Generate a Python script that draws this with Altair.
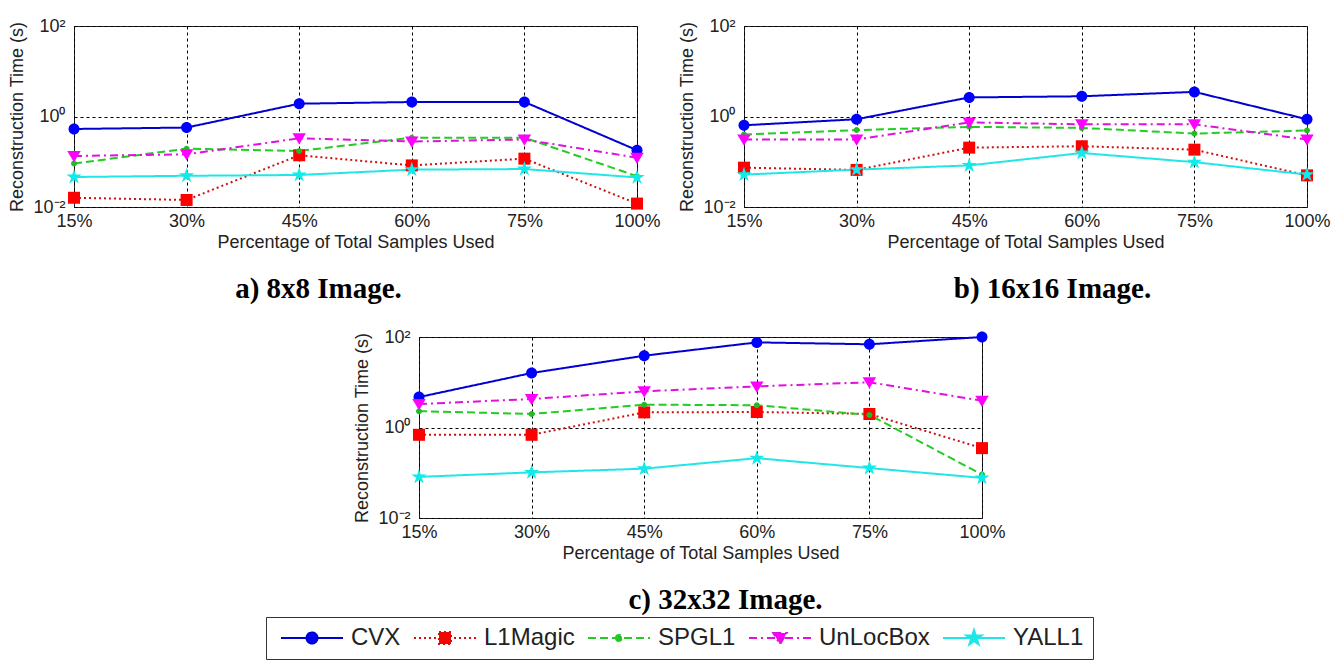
import altair as alt
import pandas as pd

categories = ["15%", "30%", "45%", "60%", "75%", "100%"]
methods = ["CVX", "L1Magic", "SPGL1", "UnLocBox", "YALL1"]

# Panel a) 8x8 image
a_cvx = [0.53, 0.57, 1.92, 2.09, 2.1, 0.18]
a_l1magic = [0.016, 0.0143, 0.139, 0.083, 0.117, 0.0119]
a_spgl1 = [0.091, 0.195, 0.173, 0.34, 0.34, 0.048]
a_unlocbox = [0.134, 0.146, 0.33, 0.28, 0.31, 0.123]
a_yall1 = [0.046, 0.049, 0.051, 0.067, 0.069, 0.045]

# Panel b) 16x16 image
b_cvx = [0.64, 0.87, 2.64, 2.8, 3.5, 0.87]
b_l1magic = [0.074, 0.066, 0.205, 0.22, 0.185, 0.05]
b_spgl1 = [0.40, 0.50, 0.59, 0.56, 0.42, 0.49]
b_unlocbox = [0.31, 0.31, 0.74, 0.67, 0.67, 0.31]
b_yall1 = [0.052, 0.067, 0.083, 0.156, 0.098, 0.052]

# Panel c) 32x32 image
c_cvx = [4.7, 16, 38.6, 76, 69, 100]
c_l1magic = [0.69, 0.69, 2.16, 2.2, 1.99, 0.35]
c_spgl1 = [2.3, 1.99, 3.2, 3.1, 1.9, 0.091]
c_unlocbox = [3.3, 4.26, 6.3, 8.1, 10, 3.9]
c_yall1 = [0.081, 0.102, 0.123, 0.21, 0.127, 0.077]

line_colors = ["#0000d0", "#d01010", "#22cc22", "#e010e0", "#22e6e6"]
marker_colors = ["#0000ff", "#ff0000", "#22bb22", "#ff00ff", "#10eaea"]
dashes = [[1, 0], [2, 3], [8, 4], [8, 4, 2, 4], [1, 0]]

CIRCLE = "M-1.1,0 A1.1,1.1 0 1,0 1.1,0 A1.1,1.1 0 1,0 -1.1,0 Z"
SQUARE = "M-1.2,-1.2 H1.2 V1.2 H-1.2 Z"
DOT = "M-0.6,0 A0.6,0.6 0 1,0 0.6,0 A0.6,0.6 0 1,0 -0.6,0 Z"
TRI = "M-1.35,-1.0 L1.35,-1.0 L0,1.25 Z"
STAR = ("M0,-1.6 L0.357,-0.492 L1.522,-0.494 L0.578,0.188 L0.941,1.294 "
        "L0,0.608 L-0.941,1.294 L-0.578,0.188 L-1.522,-0.494 L-0.357,-0.492 Z")
marker_shapes = [CIRCLE, SQUARE, DOT, TRI, STAR]
SEG = "M-6.2,0 H6.2 "
legend_shapes = [SEG + s for s in marker_shapes]


def panel_df(series_list):
    rows = []
    for m, vals in zip(methods, series_list):
        for i, (c, v) in enumerate(zip(categories, vals)):
            rows.append({"pct": c, "idx": i, "series": m, "time": v})
    return pd.DataFrame(rows)


FONT = "Liberation Sans"


def panel(series_list, caption, dx):
    df = panel_df(series_list)
    x = alt.X(
        "pct:N",
        sort=categories,
        scale=alt.Scale(type="point", padding=0),
        axis=alt.Axis(
            title="Percentage of Total Samples Used",
            labelAngle=0,
            grid=True,
            gridDash=[3, 3],
            gridColor="black",
            gridOpacity=1,
            ticks=False,
            domain=False,
            labelPadding=5,
            titlePadding=3,
        ),
    )
    y = alt.Y(
        "time:Q",
        scale=alt.Scale(type="log", domain=[0.01, 100], nice=False),
        axis=alt.Axis(
            title="Reconstruction Time (s)",
            values=[0.01, 1, 100],
            labelExpr="datum.value >= 10 ? '10²' : (datum.value >= 0.5 ? '10⁰' : '10⁻²')",
            grid=True,
            gridDash=[3, 3],
            gridColor="black",
            gridOpacity=1,
            ticks=False,
            domain=False,
            labelPadding=9,
            titlePadding=6,
            labelFlush=False,
        ),
    )
    base = alt.Chart(df)
    lines = base.mark_line(strokeWidth=2, clip=False).encode(
        x=x,
        y=y,
        order=alt.Order("idx:Q"),
        stroke=alt.Stroke("series:N", scale=alt.Scale(domain=methods, range=line_colors), legend=None),
        strokeDash=alt.StrokeDash("series:N", scale=alt.Scale(domain=methods, range=dashes), legend=None),
    )
    points = base.mark_point(filled=True, size=100, opacity=1, strokeWidth=0, clip=False).encode(
        x=x,
        y=y,
        fill=alt.Fill("series:N", scale=alt.Scale(domain=methods, range=marker_colors), legend=None),
        shape=alt.Shape("series:N", scale=alt.Scale(domain=methods, range=marker_shapes), legend=None),
    )
    return alt.layer(lines, points).properties(
        width=563,
        height=181,
        title=alt.TitleParams(
            caption,
            orient="bottom",
            anchor="middle",
            frame="group",
            font="Liberation Serif",
            fontSize=29,
            fontWeight="bold",
            color="black",
            dx=dx,
            offset=24,
        ),
    )


pa = panel([a_cvx, a_l1magic, a_spgl1, a_unlocbox, a_yall1], "a) 8x8 Image.", -37)
pb = panel([b_cvx, b_l1magic, b_spgl1, b_unlocbox, b_yall1], "b) 16x16 Image.", 27)
pc = panel([c_cvx, c_l1magic, c_spgl1, c_unlocbox, c_yall1], "c) 32x32 Image.", 25)

spacer = (
    alt.Chart(pd.DataFrame({"v": [0]}))
    .transform_filter("false")
    .mark_point(opacity=0)
    .encode(x=alt.value(0), y=alt.value(0))
    .properties(width=278, height=1, view=alt.ViewBackground(stroke="transparent"))
)

leg = alt.Legend(
    title=None,
    orient="none",
    legendX=192,
    legendY=0,
    direction="horizontal",
    columns=5,
    gridAlign="none",
    labelFont=FONT,
    labelFontSize=24,
    labelColor="#222",
    symbolSize=100,
    symbolStrokeWidth=2,
    symbolOffset=25,
    labelOffset=27,
    columnPadding=7,
    padding=9,
    strokeColor="#333",
    fillColor="white",
)

legend_chart = (
    alt.Chart(pd.DataFrame({"Method": methods}))
    .transform_filter("false")
    .mark_point(filled=True, size=100, opacity=1, strokeWidth=2)
    .encode(
        fill=alt.Fill("Method:N", scale=alt.Scale(domain=methods, range=marker_colors), legend=leg),
        stroke=alt.Stroke("Method:N", scale=alt.Scale(domain=methods, range=line_colors), legend=leg),
        shape=alt.Shape("Method:N", scale=alt.Scale(domain=methods, range=legend_shapes), legend=leg),
        strokeDash=alt.StrokeDash("Method:N", scale=alt.Scale(domain=methods, range=dashes), legend=leg),
    )
    .properties(width=1, height=1, view=alt.ViewBackground(stroke="transparent"))
)

ind = dict(fill="independent", stroke="independent", shape="independent", strokeDash="independent")

row1 = alt.hconcat(pa, pb, spacing=17).resolve_scale(**ind)
row2 = alt.hconcat(spacer, pc, spacing=0).resolve_scale(**ind)
lower = alt.vconcat(row2, legend_chart, spacing=0).resolve_scale(**ind)

chart = (
    alt.vconcat(row1, lower, spacing=22)
    .resolve_scale(**ind)
    .properties(padding={"left": 8, "top": 16, "right": 0, "bottom": 0}, background="white")
    .configure_view(stroke="#222", strokeWidth=1)
    .configure_axis(
        labelFont=FONT,
        titleFont=FONT,
        labelFontSize=18,
        titleFontSize=18,
        labelColor="#222",
        titleColor="#222",
        titleFontWeight="normal",
    )
)

chart.save("out.html", embed_options={"renderer": "svg", "actions": False})
